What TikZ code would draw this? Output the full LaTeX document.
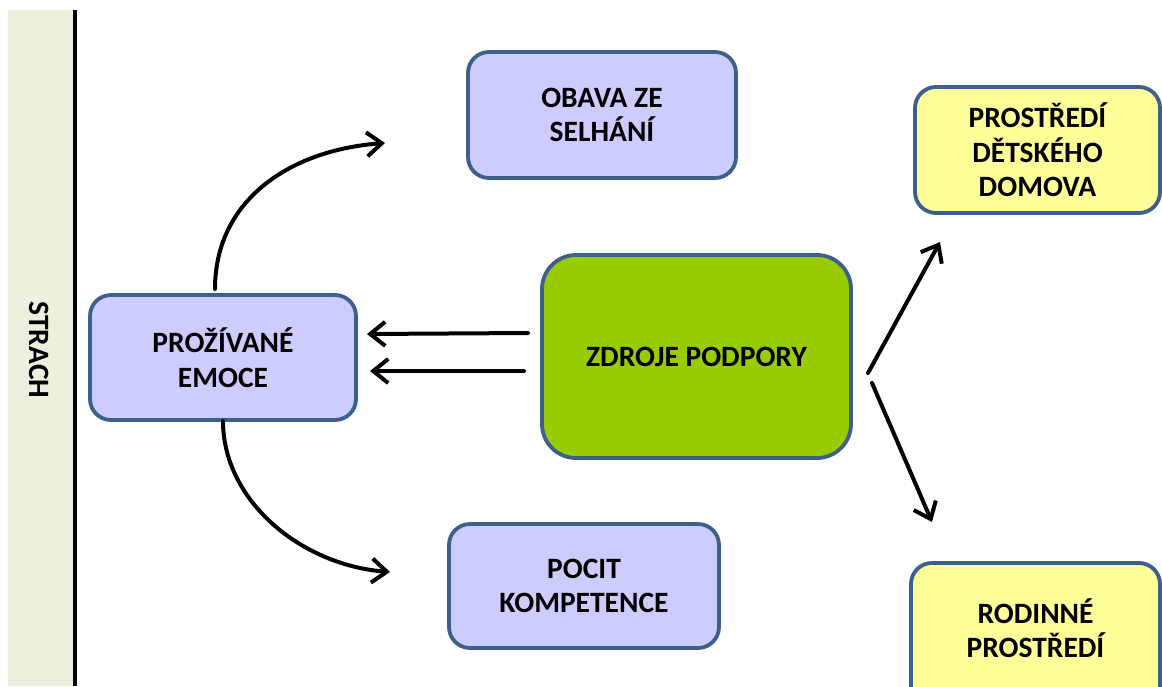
\documentclass[tikz,border=0pt]{standalone}
\usepackage{fontspec}
\setmainfont{Carlito}
\usetikzlibrary{arrows.meta}
\definecolor{boxborder}{HTML}{3D5F8C}
\definecolor{lav}{HTML}{CCCCFF}
\definecolor{yel}{HTML}{FFFF99}
\definecolor{grn}{HTML}{99CC00}
\definecolor{strip}{HTML}{EBF1DE}
\tikzset{
  lbl/.style={align=center, font=\fontsize{29.5}{34.5}\selectfont\bfseries, text=black},
  boxbase/.style={lbl, draw=boxborder, line width=3.8pt, rectangle, inner sep=0pt},
  lavbox/.style={boxbase, fill=lav, rounded corners=21pt},
  yelbox/.style={boxbase, fill=yel, rounded corners=21pt},
  grnbox/.style={boxbase, fill=grn, rounded corners=34pt},
  arr/.style={line width=4pt, draw=black, line cap=round,
    -{Straight Barb[length=15pt,width=24pt,line width=4pt]}},
}
\begin{document}
\begin{tikzpicture}[x=1pt,y=-1pt]
\useasboundingbox (0,0) rectangle (1162,686);
\clip (0,0) rectangle (1162,686);
\fill[white] (0,0) rectangle (1162,686);
% left strip
\fill[strip] (8,10) rectangle (73,686);
\draw[line width=4pt] (75,10) -- (75,686);
\node[lbl, rotate=-90] (strach) at (39,350) {STRACH};
% boxes
\node[lavbox, minimum width=268pt, minimum height=126pt] (obava) at (602,115) {OBAVA ZE\\SELHÁNÍ};
\node[lavbox, minimum width=270pt, minimum height=124pt] (pocit) at (584,586) {POCIT\\KOMPETENCE};
\node[lavbox, minimum width=266pt, minimum height=125pt] (emoce) at (223,357.5) {PROŽÍVANÉ\\EMOCE};
\node[grnbox, minimum width=309pt, minimum height=203pt] (zdroje) at (696.5,356.5) {ZDROJE PODPORY};
\node[yelbox, minimum width=245pt, minimum height=126pt] (domov) at (1037.5,150) {PROSTŘEDÍ\\DĚTSKÉHO\\DOMOVA};
\node[yelbox, minimum width=249pt, minimum height=150pt] (rodina) at (1035.5,638) {};
\node[lbl] (rodinatext) at (1035.5,628) {RODINNÉ\\PROSTŘEDÍ};
% connector end points
\coordinate (e1s) at (215,289);
\coordinate (e1t) at (385,143);
\coordinate (e2s) at (223,421);
\coordinate (e2t) at (390,572);
\coordinate (h1s) at (528,333);
\coordinate (h1t) at (367,334);
\coordinate (h2s) at (524,371);
\coordinate (h2t) at (370,371);
\coordinate (r1s) at (868,373);
\coordinate (r1t) at (940,242);
\coordinate (r2s) at (872,383);
\coordinate (r2t) at (932,522);
% connectors
\draw[arr] (e1s) .. controls (215,200) and (290,150) .. (e1t);
\draw[arr] (e2s) .. controls (223,500) and (300,565) .. (e2t);
\draw[arr] (h1s) -- (h1t);
\draw[arr] (h2s) -- (h2t);
\draw[arr] (r1s) -- (r1t);
\draw[arr] (r2s) -- (r2t);
\end{tikzpicture}
\end{document}
